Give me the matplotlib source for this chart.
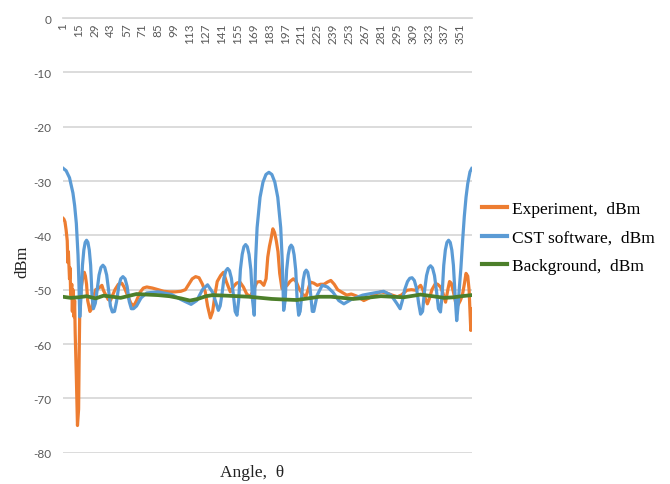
import matplotlib
matplotlib.use("Agg")
import matplotlib.pyplot as plt
from matplotlib.transforms import offset_copy

# Measured / simulated radiation pattern, angle index 1..361
cst_deg = [1, 4, 7, 10, 11.5, 13, 14.5, 15.3, 16,
           17.2, 18.4, 19.6, 20.8, 22, 23.2, 24.4, 25.6, 26.8, 28,
           29.7, 31.3, 33, 34.7, 36.4, 38, 39.7, 41.4, 43, 44.7,
           46.6, 48.4, 50.3, 52.1, 54, 55.9, 57.7, 59.6, 61.4, 63.3,
           66, 70, 75, 85, 97, 105, 114, 119, 124, 128.5, 133, 138,
           139.6, 141.3, 142.9, 144.6, 146.2, 147.8, 149.5, 151.1, 152.8, 154.4,
           155.9, 157.4, 159, 160.5, 162, 163.5, 165, 166.6, 168.1, 169.6,
           170.8, 172.1, 174.7, 177.3, 179.9, 182.5, 185.1, 187.7, 190.3, 192.9,
           194.2, 195.5,
           196.8, 198.1, 199.5, 200.8, 202.1, 203.4, 204.7, 206.1, 207.4, 208.7,
           210, 211.4, 212.7, 214, 215.35, 216.7, 218, 219.3, 220.7, 222,
           225, 229.4, 234, 239, 244, 248.5, 255, 265, 275, 283.5, 290, 295, 298,
           300, 302, 304.5, 306.5, 308.5, 310.5, 312.5, 314.3, 316,
           317.75, 319.5, 321.25, 323, 324.75, 326.5, 328.25, 330, 331.75, 333.5,
           334.9, 336.4, 337.8, 339.2, 340.65, 342.1, 343.5, 344.9, 346.4, 347.8,
           349, 350, 351.5, 353, 354.5, 356, 357.5, 359.5, 361]
cst_dbm = [-27.6, -28.1, -29.4, -32.2, -34.5, -37.8, -43.7, -49.0, -55.0,
           -51.1, -45.5, -42.7, -41.3, -40.9, -41.3, -42.7, -45.5, -51.1, -53.5,
           -52.5, -50.1, -47.3, -45.9, -45.5, -45.9, -47.3, -50.1, -53.0, -54.1,
           -54.0, -52.2, -49.4, -48.0, -47.6, -48.0, -49.4, -52.2, -53.5, -53.5,
           -53.0, -51.5, -50.6, -50.4, -50.9, -51.8, -52.7, -52.0, -50.0, -49.1,
           -50.5, -53.8,
           -53.0, -50.7, -47.9, -46.5, -46.1, -46.5, -47.9, -50.7, -54.0, -54.7,
           -51.9, -46.3, -43.5, -42.1, -41.7, -42.1, -43.5, -46.3, -51.9, -54.7,
           -44.5, -38.6, -33.0, -30.2, -28.8, -28.4, -28.8, -30.2, -33.0, -38.6,
           -44.5, -53.8,
           -52.0, -46.4, -43.6, -42.2, -41.8, -42.2, -43.6, -46.4, -52.0, -54.7,
           -54.0, -51.0, -48.2, -46.8, -46.4, -46.8, -48.2, -51.0, -54.0, -54.0,
           -51.0, -49.2, -49.5, -50.5, -52.0, -52.6, -51.8, -51.0, -50.6, -50.3,
           -51.0, -52.5, -53.5,
           -52.0, -50.0, -48.5, -47.9, -47.8, -48.3, -49.8, -52.5, -54.5,
           -54.0, -50.2, -47.4, -46.0, -45.6, -46.0, -47.4, -50.2, -53.5, -54.1,
           -51.1, -45.5, -42.7, -41.3, -40.9, -41.3, -42.7, -45.5, -51.1, -55.7,
           -53.0, -50.0, -46.0, -41.0, -36.5, -33.0, -30.5, -28.3, -27.7]

exp_deg = [1, 2, 3, 4, 5, 5.5, 6, 7, 7.5, 8, 9, 9.5, 10, 11, 11.5, 12, 13, 14, 15,
           15.5, 16, 17, 18.5, 20, 21, 22, 23, 24, 25, 26.5, 28, 30, 32, 34, 35.5, 37,
           39, 41, 43, 45, 47, 50, 53, 55, 58, 61, 63.5, 66, 69, 72, 75, 80, 85, 90, 95,
           100, 105, 109, 112, 115, 118, 121, 124, 126.5, 128.5, 131, 133, 135, 137,
           140, 142.5, 145, 148.5, 151, 154, 157, 160, 163, 166, 169, 172, 175, 178,
           180, 181.5, 183, 184.5, 186, 187.5, 189, 190.5, 192, 194, 196, 198.5, 201,
           204, 206.5, 209, 212, 215, 217, 219, 222, 225, 228, 231, 234, 237, 240, 243,
           247, 251, 255, 260, 266, 271, 276, 281, 286, 291, 295.5, 299, 304, 308,
           311.5, 314, 316, 318, 320, 322, 324, 326, 329, 331, 333.5, 335.5, 338, 340,
           341.5, 343, 345, 346.8, 348.8, 351, 352.8, 354.5, 356, 357.5, 358.7, 359.5,
           360.2, 361]
exp_dbm = [-36.8, -37.0, -37.5, -39.0, -41.0, -45.0, -43.0, -48.0, -46.0, -51.0, -49.0,
           -54.0, -50.0, -55.0, -52.0, -58.0, -66.0, -75.0, -72.0, -62.0, -54.0, -50.0,
           -48.0, -46.8, -47.5, -49.0, -52.0, -53.0, -54.0, -53.5, -51.5, -50.0, -49.8,
           -49.5, -49.2, -50.2, -51.0, -51.8, -52.0, -51.0, -50.0, -49.0, -48.8, -49.5,
           -51.0, -52.5, -53.0, -52.0, -50.5, -49.7, -49.5, -49.7, -50.0, -50.3, -50.4,
           -50.4, -50.3, -50.0, -49.0, -48.0, -47.6, -47.8, -49.0, -50.4, -53.0, -55.2,
           -54.0, -51.0, -48.5, -47.4, -46.8, -48.5, -50.4, -49.5, -48.8, -48.6, -49.5,
           -50.8, -51.3, -50.0, -48.6, -48.5, -49.2, -48.0, -44.0, -42.0, -40.5, -38.8,
           -39.5, -41.0, -43.0, -47.0, -49.8, -49.6, -49.2, -48.5, -48.0, -48.5, -49.8,
           -50.8, -51.3, -50.0, -48.6, -48.8, -49.2, -49.0, -49.0, -48.6, -48.3, -49.0,
           -50.0, -50.5, -51.0, -50.8, -51.2, -52.0, -51.5, -50.8, -50.4, -50.6, -51.0,
           -51.3, -51.0, -50.1, -50.0, -50.1, -49.6, -49.2, -50.0, -51.5, -52.6, -51.5,
           -50.0, -48.9, -49.0, -49.5, -50.5, -52.3, -50.0, -48.5, -48.8, -50.5, -52.3,
           -52.9, -52.0, -51.0, -49.0, -47.0, -47.5, -50.0, -54.0, -57.5, -53.5]

bg_deg = [1, 8, 15, 22, 30, 37, 45, 52, 58, 66, 75, 85, 95, 105, 113, 120, 127, 133,
          145, 155, 165, 175, 185, 195, 207, 217, 227, 237, 247, 257, 268, 281, 291,
          301, 310, 316, 323, 330, 337, 345, 352, 361]
bg_dbm = [-51.3, -51.5, -51.4, -51.2, -51.6, -51.1, -51.3, -51.5, -51.2, -50.8, -50.9,
          -51.0, -51.2, -51.6, -52.0, -51.7, -51.2, -51.0, -51.1, -51.2, -51.3, -51.5,
          -51.7, -51.8, -51.9, -51.6, -51.3, -51.3, -51.5, -51.7, -51.5, -51.2, -51.3,
          -51.4, -51.1, -50.9, -51.1, -51.3, -51.5, -51.4, -51.2, -51.0]

x_ticks = list(range(1, 352, 14))
y_ticks = [0, -10, -20, -30, -40, -50, -60, -70, -80]

series_labels = ["Experiment,  dBm", "CST software,  dBm", "Background,  dBm"]
series_colors = ["#ED7D31", "#5B9BD5", "#4C7F2A"]

fig = plt.figure(figsize=(6.7, 4.85), dpi=100)
ax = fig.add_axes([62.7 / 670, 1 - 453.7 / 485, 409 / 670, (453.7 - 19) / 485])

ax.plot(exp_deg, exp_dbm, color=series_colors[0], lw=2.3, label=series_labels[0],
        solid_joinstyle="round", zorder=3)
ax.plot(cst_deg, cst_dbm, color=series_colors[1], lw=2.3, label=series_labels[1],
        solid_joinstyle="round", zorder=4)
ax.plot(bg_deg, bg_dbm, color=series_colors[2], lw=2.7, label=series_labels[2],
        solid_joinstyle="round", zorder=5)

ax.set_xlim(1, 361)
ax.set_ylim(-80, 0)

# horizontal grid only
ax.set_yticks(y_ticks)
ax.set_yticklabels([str(v) for v in y_ticks], fontsize=8.5, color="#595959",
                   family="Lato")
ax.tick_params(axis="y", length=0, pad=8)
ax.yaxis.grid(True, color="#D9D9D9", lw=1.3)
ax.set_axisbelow(True)
for side in ["left", "right", "bottom"]:
    ax.spines[side].set_visible(False)
ax.spines["top"].set_color("#D9D9D9")
ax.spines["top"].set_linewidth(1.3)

# category labels hang below the zero line
ax.set_xticks([])
lab_tr = offset_copy(ax.get_xaxis_transform(), fig=fig, x=0, y=-3, units="points")
for t in x_ticks:
    ax.text(t, 1, str(t), transform=lab_tr, rotation=90, ha="center", va="top",
            fontsize=8.5, color="#595959", family="Lato")

fig.text(22 / 670, 1 - 262 / 485, "dBm", rotation=90, ha="center", va="center",
         fontsize=12, family="Liberation Serif", color="#222222")
fig.text(252 / 670, 1 - 473 / 485, "Angle,  θ", ha="center", va="center",
         fontsize=12.5, family="Liberation Serif", color="#222222")

leg = fig.legend(loc="center left", bbox_to_anchor=(475 / 670, 1 - 238.5 / 485),
                 frameon=False, prop={"family": "Liberation Serif", "size": 12.5},
                 handlelength=1.45, handletextpad=0.3, labelspacing=0.72,
                 borderaxespad=0)
for h in leg.get_lines():
    h.set_linewidth(3)

fig.savefig("out.png", dpi=100, facecolor="white")
